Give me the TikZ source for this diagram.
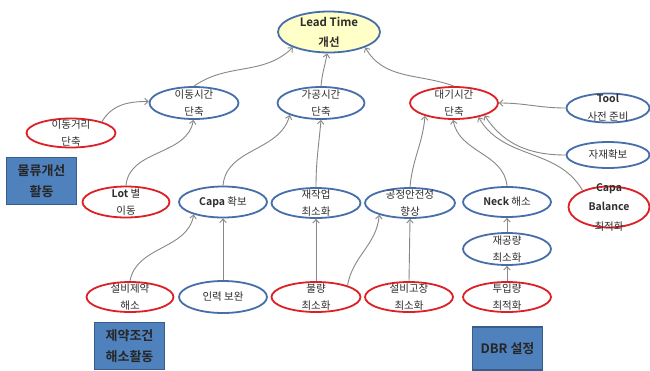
\documentclass[tikz,border=0pt]{standalone}
\usepackage{fontspec}
\setmainfont{Noto Sans CJK KR}[BoldFont={Noto Sans CJK KR Bold}]
\usetikzlibrary{shapes.geometric,arrows.meta}
\definecolor{eblue}{RGB}{70,110,170}
\definecolor{ered}{RGB}{220,32,38}
\definecolor{ltfill}{RGB}{255,255,200}
\definecolor{boxfill}{RGB}{79,129,189}
\definecolor{boxline}{RGB}{56,93,138}
\definecolor{txtc}{RGB}{45,45,45}
\definecolor{conncol}{RGB}{135,135,135}
\begin{document}
\begin{tikzpicture}[x=1pt,y=1pt,
  bl/.style={ellipse, draw=eblue, line width=1.8pt, fill=white, inner sep=0pt},
  rd/.style={bl, draw=ered},
  txt/.style={align=center, inner sep=0pt, text=txtc, font=\fontsize{10.5}{17}\selectfont},
  boxn/.style={rectangle, draw=boxline, line width=1.3pt, fill=boxfill, inner sep=0pt},
  boxt/.style={align=center, inner sep=0pt, text=black!85, font=\fontsize{13}{21}\selectfont\bfseries},
  conn/.style={draw=conncol, line width=0.9pt, -{Straight Barb[length=3.5pt,width=6.5pt]}}
]
\useasboundingbox (0,0) rectangle (650,-370);
\fill[white] (0,0) rectangle (650,-370);

% top
\node[bl, fill=ltfill, minimum width=102pt, minimum height=41pt] (LT) at (329,-32) {};
\node[txt, font=\fontsize{11.5}{20}\selectfont\bfseries] (LTt) at (LT) {Lead Time\\개선};

% second row
\node[bl, minimum width=89pt, minimum height=32pt] (mt) at (194,-103) {};
\node[txt] (mtt) at (mt) {이동시간\\단축};
\node[bl, minimum width=87pt, minimum height=32pt] (pt) at (321,-103) {};
\node[txt] (ptt) at (pt) {가공시간\\단축};
\node[rd, minimum width=88pt, minimum height=32pt] (wt) at (454,-103) {};
\node[txt] (wtt) at (wt) {대기시간\\단축};

% right column
\node[bl, minimum width=83pt, minimum height=29pt] (tool) at (608,-108) {};
\node[txt, font=\fontsize{10.5}{18}\selectfont] (toolt) at (tool) {\textbf{Tool}\\사전 준비};
\node[bl, minimum width=83pt, minimum height=26pt] (mat) at (608,-155) {};
\node[txt] (matt) at (mat) {자재확보};
\node[rd, minimum width=81pt, minimum height=41pt] (cb) at (609,-207) {};
\node[txt, font=\fontsize{10.5}{19.5}\selectfont] (cbt) at (cb) {\textbf{Capa}\\\textbf{Balance}\\최적화};

% left
\node[rd, minimum width=89pt, minimum height=29pt] (md) at (71,-133) {};
\node[txt] (mdt) at (md) {이동거리\\단축};
\node[boxn, minimum width=70pt, minimum height=47pt] (box1) at (41.5,-181) {};
\node[boxt] (box1t) at (box1) {물류개선\\활동};

% third row
\node[rd, minimum width=87pt, minimum height=31pt] (lot) at (126,-202) {};
\node[txt] (lott) at (lot) {\textbf{Lot} 별\\이동};
\node[bl, minimum width=88pt, minimum height=31pt] (capa) at (223,-202) {};
\node[txt] (capat) at (capa) {\textbf{Capa} 확보};
\node[bl, minimum width=89pt, minimum height=30pt] (rw) at (316,-203) {};
\node[txt] (rwt) at (rw) {재작업\\최소화};
\node[bl, minimum width=90pt, minimum height=30pt] (ps) at (410,-203) {};
\node[txt] (pst) at (ps) {공정안전성\\향상};
\node[bl, minimum width=88pt, minimum height=30pt] (neck) at (507,-202) {};
\node[txt] (neckt) at (neck) {\textbf{Neck} 해소};
\node[bl, minimum width=88pt, minimum height=32pt] (wip) at (507,-249) {};
\node[txt] (wipt) at (wip) {재공량\\최소화};

% bottom row
\node[rd, minimum width=87pt, minimum height=30pt] (ec) at (130,-297) {};
\node[txt] (ect) at (ec) {설비제약\\해소};
\node[bl, minimum width=88pt, minimum height=32pt] (man) at (223,-297) {};
\node[txt] (mant) at (man) {인력 보완};
\node[rd, minimum width=89pt, minimum height=30pt] (def) at (316,-297) {};
\node[txt] (deft) at (def) {불량\\최소화};
\node[rd, minimum width=88pt, minimum height=30pt] (eq) at (409,-297) {};
\node[txt] (eqt) at (eq) {설비고장\\최소화};
\node[rd, minimum width=88pt, minimum height=30pt] (inp) at (507,-297) {};
\node[txt] (inpt) at (inp) {투입량\\최적화};

% boxes
\node[boxn, minimum width=70pt, minimum height=47pt] (box2) at (129.5,-346) {};
\node[boxt] (box2t) at (box2) {제약조건\\해소활동};
\node[boxn, minimum width=70pt, minimum height=43pt] (box3) at (507.5,-348.5) {};
\node[boxt] (box3t) at (box3) {DBR 설정};

% connectors
\draw[conn] (mt.north) to[out=35,in=224] (LT.203);
\draw[conn] (pt.north) to[out=85,in=-100] (LT.265);
\draw[conn] (wt.north) to[out=160,in=-60] (LT.-23);
\draw[conn] (md.20) to[out=60,in=180] (mt.178);
\draw[conn] (lot.north) to[out=85,in=-100] (mt.268);
\draw[conn] (capa.north) to[out=85,in=-105] (pt.201);
\draw[conn] (rw.north) to[out=90,in=-95] (pt.south);
\draw[conn] (ps.north) to[out=85,in=-95] (wt.204);
\draw[conn] (neck.north) to[out=95,in=-80] (wt.267);
\draw[conn] (tool.west) to[out=180,in=0] (wt.east);
\draw[conn] (mat.west) to[out=180,in=-57] (wt.-22);
\draw[conn] (cb.148) to[out=120,in=-60] (wt.-30);
\draw[conn] (ec.north) to[out=80,in=-100] (capa.203);
\draw[conn] (man.north) -- (capa.south);
\draw[conn] (def.north) -- (rw.south);
\draw[conn] (def.20) to[out=80,in=-95] (ps.201);
\draw[conn] (eq.north) -- (ps.south);
\draw[conn] (wip.north) -- (neck.south);
\draw[conn] (inp.north) -- (wip.south);
\end{tikzpicture}
\end{document}
